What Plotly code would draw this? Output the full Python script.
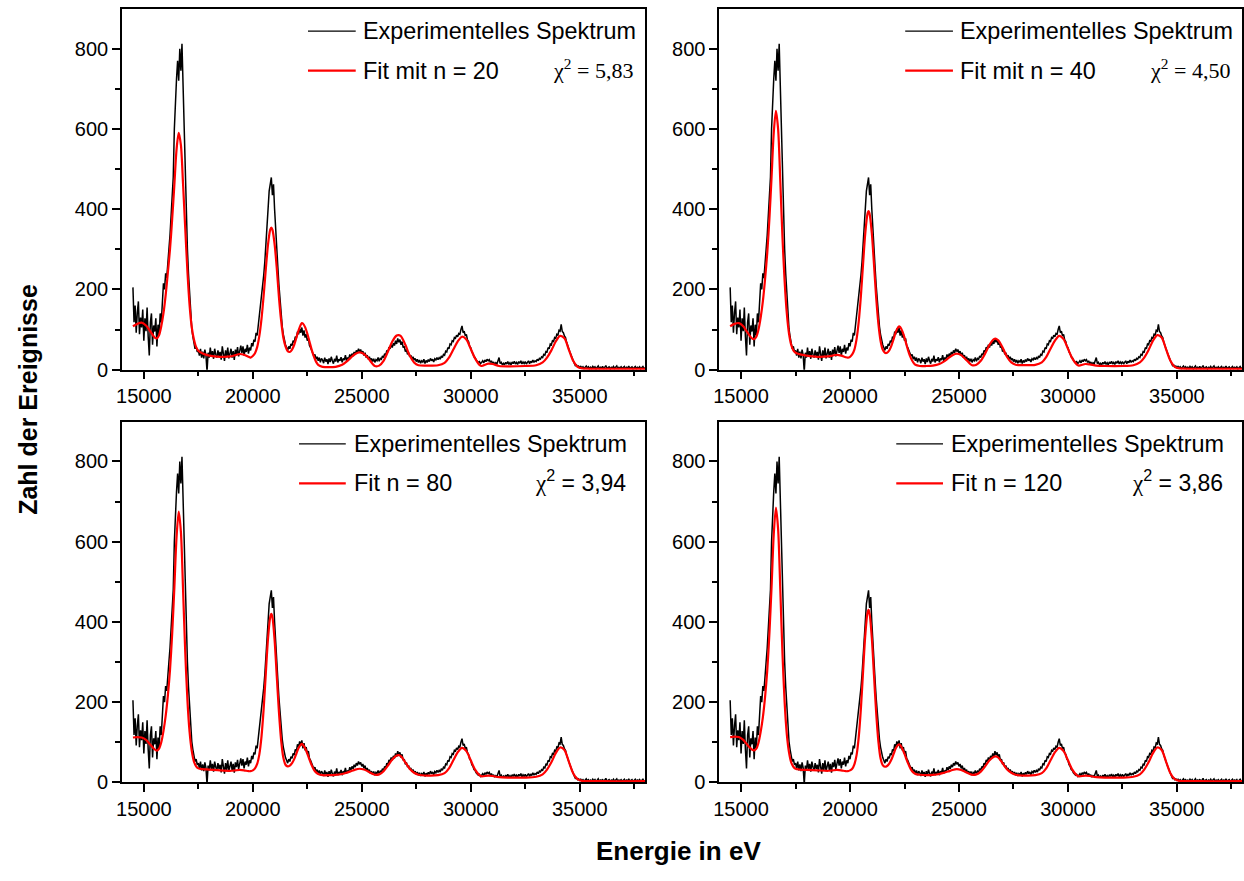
import plotly.graph_objects as go

W, H = 1244, 881

# Measured spectrum: counts per 50 eV bin, starting at 14500 eV
E_START, E_STEP = 14500, 50
counts_exp = [
    205, 118, 160, 92, 142, 170, 88, 130, 105, 150, 72, 128, 96, 155, 82, 35, 118, 140, 62, 110,
    95, 128, 58, 112, 85, 140, 118, 170, 215, 200, 240, 228, 275, 300, 335, 385, 420, 480, 600, 690,
    725, 770, 720, 800, 745, 812, 705, 625, 470, 372, 300, 238, 182, 135, 102, 82, 66, 52, 58, 44,
    48, 35, 52, 30, 45, 28, 50, 36, -5, 42, 30, 55, 33, 46, 27, 52, 38, 30, 48, 34,
    44, 25, 58, 36, 22, 48, 31, 55, 28, 40, 52, 30, 46, 24, 50, 38, 56, 33, 47, 60,
    42, 58, 35, 52, 44, 62, 40, 55, 48, 66, 58, 75, 70, 92, 85, 110, 128, 150, 180, 205,
    235, 268, 305, 352, 400, 445, 468, 479, 435, 462, 400, 360, 300, 255, 210, 170, 135, 108, 88, 72,
    62, 55, 48, 58, 52, 64, 60, 72, 68, 82, 78, 95, 88, 102, 92, 105, 85, 98, 80, 88,
    72, 78, 60, 55, 46, 40, 34, 38, 26, 32, 22, 30, 18, 28, 24, 16, 30, 20, 26, 14,
    28, 19, 32, 22, 15, 27, 20, 35, 18, 26, 22, 31, 18, 28, 24, 36, 22, 30, 26, 38,
    30, 40, 34, 44, 38, 48, 42, 52, 45, 50, 40, 46, 35, 42, 30, 36, 26, 32, 22, 28,
    20, 27, 18, 25, 22, 30, 21, 28, 26, 34, 30, 40, 36, 48, 44, 56, 52, 62, 55, 66,
    60, 72, 64, 78, 68, 75, 62, 70, 55, 58, 45, 50, 38, 42, 32, 36, 27, 32, 24, 28,
    20, 26, 18, 24, 16, 22, 19, 26, 15, 23, 18, 25, 20, 28, 22, 26, 19, 27, 24, 30,
    25, 30, 26, 34, 30, 38, 36, 46, 44, 55, 52, 64, 62, 72, 70, 80, 78, 86, 82, 90,
    88, 100, 109, 92, 96, 84, 88, 74, 70, 58, 55, 44, 40, 32, 30, 24, 22, 18, 20, 15,
    18, 22, 17, 24, 20, 26, 22, 25, 18, 22, 15, 19, 13, 17, 14, 20, 30, 15, 18, 12,
    16, 12, 18, 14, 20, 13, 17, 12, 19, 15, 21, 14, 18, 13, 20, 16, 22, 14, 19, 15,
    20, 14, 18, 22, 15, 21, 17, 24, 18, 22, 20, 26, 22, 28, 26, 32, 30, 38, 36, 45,
    44, 55, 52, 64, 62, 72, 70, 80, 78, 88, 86, 98, 96, 113, 95, 92, 84, 80, 68, 62,
    52, 44, 36, 28, 20, 16, 10, 12, 7, 9, 5, 8, 4, 7, 3, 6, 9, 4, 7, 3,
    6, 3, 8, 4, 7, 2, 5, 9, 3, 6, 4, 8, 2, 6, 10, 3, 5, 7, 2, 6,
    4, 8, 3, 5, 9, 2, 6, 4, 7, 3, 5, 8, 2, 6, 4, 9, 3, 5, 7, 2,
    5, 8, 3, 6, 4, 7, 2, 5, 8, 3, 4,
]
energy_exp = [E_START + i * E_STEP for i in range(len(counts_exp))]

# Energies at which the fitted curves are tabulated (eV)
energy_fit = [
    14500, 14700, 14900, 15100, 15300, 15500, 15600, 15700, 15800, 15900,
    16000, 16100, 16200, 16300, 16400, 16500, 16600, 16700, 16800, 16900,
    17000, 17100, 17200, 17300, 17400, 17500, 17700, 18000, 18500, 19000,
    19200, 19400, 19600, 19800, 19900, 20000, 20100, 20200, 20300, 20400,
    20500, 20600, 20700, 20800, 20850, 20900, 21000, 21100, 21200, 21300,
    21400, 21500, 21600, 21700, 21800, 21900, 22000, 22100, 22200, 22250,
    22300, 22400, 22500, 22600, 22700, 22800, 22900, 23000, 23200, 23500,
    23800, 24100, 24300, 24500, 24700, 24900, 25100, 25300, 25500, 25600,
    25800, 26000, 26200, 26400, 26600, 26700, 26800, 27000, 27200, 27400,
    27600, 28000, 28500, 28800, 29000, 29200, 29400, 29600, 29800, 30000,
    30200, 30400, 30500, 30800, 31000, 31300, 31700, 32500, 33000, 33300,
    33500, 33700, 33900, 34100, 34300, 34500, 34700, 34900, 35100, 36000,
    38000,
]

fit_n20 = [
    108, 114, 117, 110, 95, 80, 78, 86, 108, 140,
    185, 241, 300, 375, 460, 548, 590, 560, 462, 352,
    245, 160, 105, 75, 56, 47, 40, 35, 32, 33,
    36, 39, 37, 32, 30, 34, 41, 56, 84, 127,
    186, 253, 313, 349, 354, 349, 313, 253, 180, 122,
    80, 58, 46, 44, 50, 62, 80, 98, 112, 116,
    115, 106, 90, 70, 50, 33, 20, 12, 7, 6,
    7, 12, 20, 30, 39, 43, 39, 28, 14, 9,
    10, 22, 45, 70, 85, 86, 83, 62, 35, 18,
    11, 10, 11, 17, 30, 50, 70, 82, 75, 52,
    28, 12, 9, 15, 14, 9, 8, 9, 11, 18,
    30, 48, 70, 84, 78, 50, 22, 7, 3, 2,
    2,
]

fit_n40 = [
    108, 114, 116, 108, 92, 78, 76, 82, 100, 130,
    170, 225, 290, 375, 480, 590, 645, 600, 470, 330,
    220, 140, 90, 62, 48, 42, 38, 35, 32, 33,
    35, 37, 35, 31, 30, 32, 38, 50, 76, 120,
    185, 265, 340, 388, 395, 388, 340, 262, 180, 115,
    72, 50, 42, 42, 48, 60, 76, 94, 105, 108,
    106, 96, 80, 60, 42, 28, 18, 12, 9, 9,
    10, 14, 20, 28, 36, 40, 36, 26, 15, 11,
    12, 22, 40, 62, 76, 77, 73, 55, 32, 18,
    12, 11, 12, 18, 31, 52, 72, 84, 76, 52,
    28, 13, 10, 14, 13, 10, 9, 9, 11, 18,
    30, 49, 72, 86, 80, 51, 22, 7, 3, 2,
    2,
]

fit_n80 = [
    112, 113, 112, 106, 94, 82, 79, 84, 100, 128,
    165, 215, 280, 370, 485, 610, 675, 625, 480, 325,
    205, 125, 78, 52, 40, 35, 33, 32, 30, 29,
    30, 31, 30, 28, 28, 30, 35, 46, 70, 115,
    185, 275, 360, 412, 420, 412, 355, 265, 175, 105,
    62, 44, 40, 42, 48, 58, 72, 86, 94, 96,
    94, 85, 72, 57, 43, 32, 25, 21, 18, 18,
    19, 21, 24, 28, 32, 34, 32, 27, 21, 19,
    20, 28, 42, 57, 67, 68, 65, 50, 34, 24,
    19, 17, 18, 23, 35, 55, 75, 86, 78, 55,
    32, 18, 15, 17, 16, 13, 12, 12, 14, 20,
    32, 50, 73, 87, 81, 52, 23, 8, 4, 3,
    3,
]

fit_n120 = [
    113, 114, 113, 106, 93, 82, 80, 84, 99, 126,
    162, 212, 278, 370, 488, 618, 685, 632, 482, 322,
    200, 120, 75, 50, 39, 34, 32, 31, 30, 29,
    30, 31, 30, 28, 28, 30, 34, 45, 68, 113,
    185, 278, 367, 422, 430, 420, 360, 267, 174, 103,
    60, 43, 39, 41, 47, 57, 71, 85, 93, 95,
    93, 84, 71, 56, 43, 32, 25, 21, 19, 18,
    19, 21, 24, 27, 31, 33, 31, 26, 21, 19,
    20, 27, 40, 55, 64, 65, 62, 48, 33, 24,
    19, 17, 18, 23, 35, 55, 75, 86, 78, 55,
    32, 18, 15, 17, 16, 13, 12, 12, 14, 20,
    32, 50, 73, 87, 81, 52, 23, 8, 4, 3,
    3,
]

fit_labels = ["Fit mit n = 20", "Fit mit n = 40", "Fit n = 80", "Fit n = 120"]
chi2_values = ["5,83", "4,50", "3,94", "3,86"]
fits = [fit_n20, fit_n40, fit_n80, fit_n120]

x_ticks = [15000, 20000, 25000, 30000, 35000]
y_ticks = [0, 200, 400, 600, 800]

# Panel frames in pixels: (left, right, top, bottom)
frames = [
    (116.7, 642.7, 9.5, 374.3),
    (717.3, 1243.3, 9.5, 374.3),
    (116.7, 642.7, 427.5, 792.3),
    (717.3, 1243.3, 427.5, 792.3),
]


def px(x):
    return x / W


def py(y):
    return 1 - y / H


SANS = "Liberation Sans, Arial, sans-serif"
SERIF = "Liberation Serif, Times New Roman, serif"

fig = go.Figure()
layout_axes = {}
shapes = []
annotations = []

for i, (fit, lab, chi, (L, R, T, B)) in enumerate(zip(fits, fit_labels, chi2_values, frames)):
    k = "" if i == 0 else str(i + 1)
    xa, ya = "x" + k, "y" + k
    fig.add_trace(go.Scatter(
        x=energy_exp, y=counts_exp, mode="lines", xaxis=xa, yaxis=ya,
        line=dict(color="black", width=1.5), showlegend=False, hoverinfo="skip"))
    fig.add_trace(go.Scatter(
        x=energy_fit, y=fit, mode="lines", xaxis=xa, yaxis=ya,
        line=dict(color="#ff0000", width=2.2, shape="spline", smoothing=0.8),
        showlegend=False, hoverinfo="skip"))

    common = dict(
        showline=True, linewidth=1.6, linecolor="black", mirror=True,
        ticks="outside", ticklen=8, tickwidth=1.5, tickcolor="black",
        showgrid=False, zeroline=False,
        tickfont=dict(family=SANS, size=20, color="black"),
    )
    layout_axes["xaxis" + k] = dict(
        common, domain=[px(L), px(R)], anchor=ya, range=[14000, 38000],
        tickvals=x_ticks, ticktext=[str(v) for v in x_ticks],
        minor=dict(tickvals=[17500, 22500, 27500, 32500, 37500], ticklen=5,
                   tickwidth=1.5, tickcolor="black", ticks="outside", showgrid=False),
    )
    layout_axes["yaxis" + k] = dict(
        common, domain=[py(B), py(T)], anchor=xa, range=[0, 898],
        tickvals=y_ticks, ticktext=[str(v) for v in y_ticks],
        minor=dict(tickvals=[100, 300, 500, 700], ticklen=5,
                   tickwidth=1.5, tickcolor="black", ticks="outside", showgrid=False),
    )

    top = i < 2
    l0, l1, tx = (L + 187, L + 235, L + 240) if top else (L + 178, L + 225, L + 231)
    chi_right = L + 516 if top else L + 509
    r1, r2 = T + 22, T + 62
    shapes.append(dict(type="line", xref="paper", yref="paper",
                       x0=px(l0), x1=px(l1), y0=py(r1), y1=py(r1),
                       line=dict(color="black", width=1.3)))
    shapes.append(dict(type="line", xref="paper", yref="paper",
                       x0=px(l0), x1=px(l1), y0=py(r2), y1=py(r2),
                       line=dict(color="#ff0000", width=2.2)))
    annotations.append(dict(text="Experimentelles Spektrum", x=px(tx), y=py(r1),
                            xref="paper", yref="paper", xanchor="left", yanchor="middle",
                            showarrow=False, font=dict(family=SANS, size=23.4, color="black")))
    annotations.append(dict(text=lab, x=px(tx), y=py(r2),
                            xref="paper", yref="paper", xanchor="left", yanchor="middle",
                            showarrow=False, font=dict(family=SANS, size=23.4, color="black")))
    if top:
        chi_text = "χ<sup>2</sup> = " + chi
        chi_font = dict(family=SERIF, size=22, color="black")
    else:
        chi_text = ('<span style="font-family:Liberation Serif">χ</span>'
                    "<sup>2</sup> = " + chi)
        chi_font = dict(family=SANS, size=23, color="black")
    annotations.append(dict(text=chi_text, x=px(chi_right), y=py(r2 - 2),
                            xref="paper", yref="paper", xanchor="right", yanchor="middle",
                            showarrow=False, font=chi_font))

annotations.append(dict(text="<b>Zahl der Ereignisse</b>", x=px(22), y=py(404),
                        xref="paper", yref="paper", xanchor="center", yanchor="middle",
                        textangle=-90, showarrow=False,
                        font=dict(family=SANS, size=25, color="black")))
annotations.append(dict(text="<b>Energie in eV</b>", x=px(676), y=py(862),
                        xref="paper", yref="paper", xanchor="center", yanchor="middle",
                        showarrow=False, font=dict(family=SANS, size=26, color="black")))

fig.update_layout(
    width=W, height=H,
    margin=dict(l=0, r=0, t=0, b=0),
    paper_bgcolor="white", plot_bgcolor="white",
    shapes=shapes, annotations=annotations,
    **layout_axes,
)

fig.write_html("out.html")
